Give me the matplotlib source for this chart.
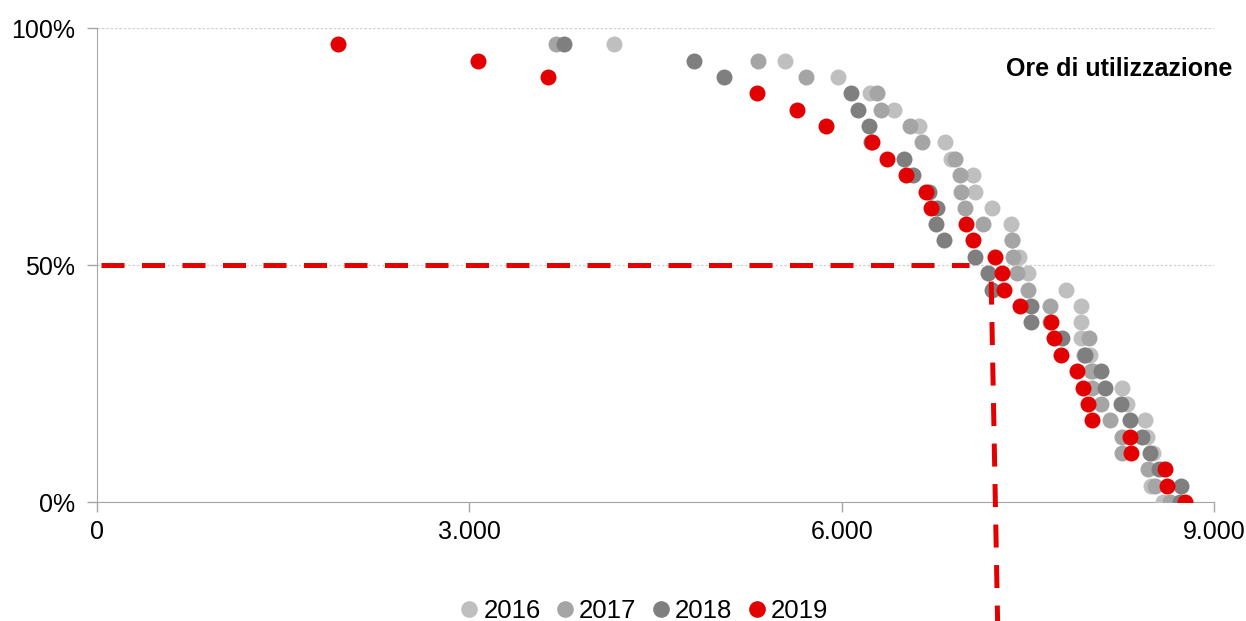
import matplotlib

matplotlib.use("Agg")
import matplotlib.pyplot as plt
from matplotlib.lines import Line2D


plt.rcParams["font.family"] = ["Liberation Sans", "DejaVu Sans"]

# share of the time (%) and hours of use, one point per level
share = [96.6, 93.1, 89.7, 86.2, 82.8, 79.3, 75.9, 72.4, 69.0, 65.5, 62.1, 58.6,
         55.2, 51.7, 48.3, 44.8, 41.4, 37.9, 34.5, 31.0, 27.6, 24.1, 20.7, 17.2,
         13.8, 10.3, 6.9, 3.4, 0.0]

hours_2016 = [4166, 5543, 5970, 6228, 6422, 6623, 6833, 6881, 7058, 7074, 7211, 7364,
              7372, 7429, 7501, 7808, 7928, 7928, 7928, 8001, 8025, 8259, 8299, 8444,
              8460, 8508, 8581, 8493, 8589]
hours_2017 = [3698, 5326, 5713, 6285, 6317, 6551, 6647, 6913, 6953, 6961, 6994, 7139,
              7372, 7380, 7413, 7501, 7679, 7680, 7993, 7953, 8009, 8017, 8090, 8162,
              8259, 8259, 8468, 8525, 8645]
hours_2018 = [3763, 4810, 5052, 6075, 6132, 6220, 6236, 6502, 6575, 6704, 6768, 6760,
              6825, 7074, 7179, 7211, 7525, 7525, 7775, 7961, 8090, 8122, 8251, 8323,
              8420, 8484, 8557, 8734, 8726]
hours_2019 = [1942, 3070, 3634, 5318, 5640, 5874, 6244, 6365, 6518, 6680, 6720, 7002,
              7058, 7235, 7292, 7308, 7437, 7687, 7711, 7767, 7896, 7944, 7985, 8017,
              8323, 8331, 8605, 8621, 8766]

years = ["2016", "2017", "2018", "2019"]
colors = ["#BFBFBF", "#A5A5A5", "#7F7F7F", "#E30000"]

# dashed guide lines (hours, share)
guide_h_x = [30, 7030]
guide_h_y = [50, 50]
guide_v_x = [7205, 7258]
guide_v_y = [46.5, -27]

x_ticks = [0, 3000, 6000, 9000]
x_labels = ["0", "3.000", "6.000", "9.000"]
y_ticks = [0, 50, 100]
y_labels = ["0%", "50%", "100%"]

fig = plt.figure(figsize=(12.46, 6.21), dpi=100)
ax = fig.add_axes([0.0778, 0.1916, 0.8965, 0.7633])

series = [hours_2016, hours_2017, hours_2018, hours_2019]
for hours, color in zip(series, colors):
    ax.plot(hours, share, linestyle="none", marker="o", markersize=11.5,
            markerfacecolor=color, markeredgewidth=0, zorder=3)

ax.plot(guide_h_x, guide_h_y, color="#E30000", linewidth=3.6,
        dashes=(4.6, 3.5), solid_capstyle="butt", dash_capstyle="butt", zorder=4)
ax.plot(guide_v_x, guide_v_y, color="#E30000", linewidth=3.6,
        dashes=(4.6, 3.5), dash_capstyle="butt", zorder=4, clip_on=False)

ax.set_xlim(0, 9000)
ax.set_ylim(0, 100)
ax.set_xticks(x_ticks)
ax.set_xticklabels(x_labels)
ax.set_yticks(y_ticks)
ax.set_yticklabels(y_labels)
ax.tick_params(labelsize=18, colors="#A6A6A6", labelcolor="black", length=7, width=1)
ax.tick_params(axis="x", pad=6)
ax.tick_params(axis="y", pad=9)

for side in ["top", "right"]:
    ax.spines[side].set_visible(False)
for side in ["left", "bottom"]:
    ax.spines[side].set_color("#A6A6A6")

ax.grid(axis="y", color="#D0D0D0", linestyle=(0, (2, 1.5)), linewidth=0.9, zorder=0)

fig.text(0.9888, 0.889, "Ore di utilizzazione", ha="right", va="center",
         fontsize=18, fontweight="bold")

handles = [Line2D([], [], linestyle="none", marker="o", markersize=12,
                  markerfacecolor=c, markeredgewidth=0) for c in colors]
fig.legend(handles, years, loc="center", bbox_to_anchor=(0.515, 0.016), ncol=4,
           frameon=False, fontsize=18.5, handletextpad=0.0, columnspacing=0.4,
           handlelength=1.1, borderpad=0.2)

fig.savefig("out.png", dpi=100)
